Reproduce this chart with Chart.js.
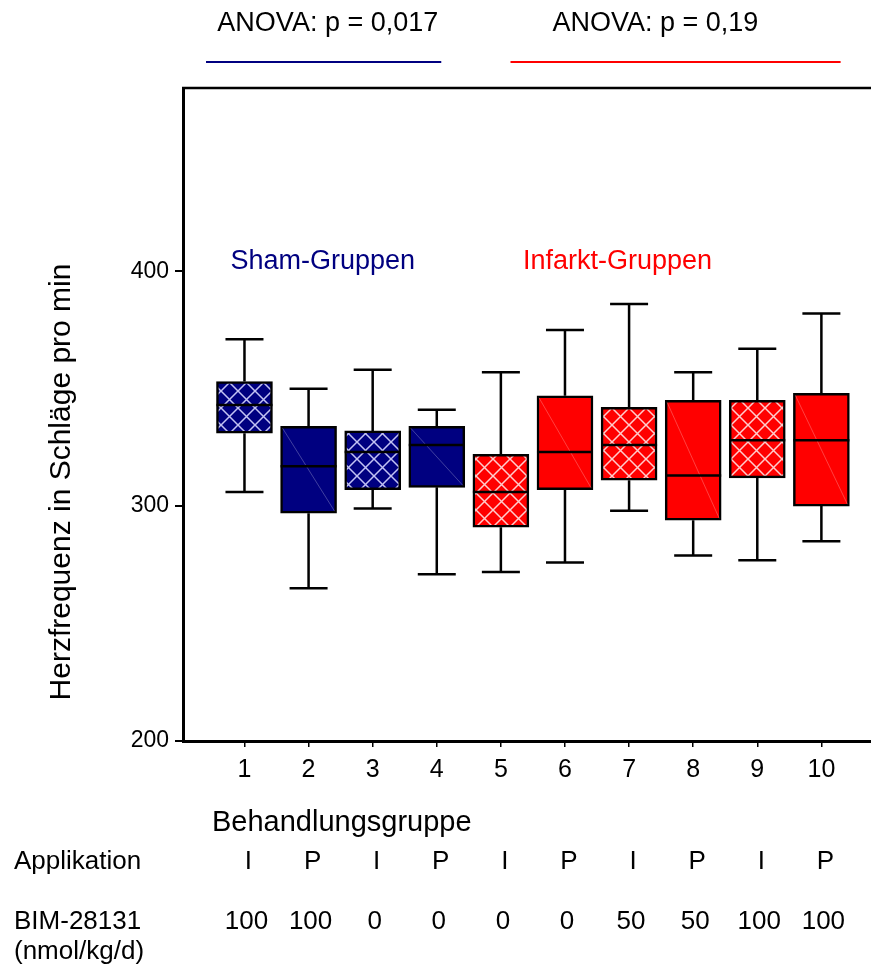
<!DOCTYPE html>
<html>
<head>
<meta charset="utf-8">
<script src="https://cdn.jsdelivr.net/npm/chart.js@4.4.0/dist/chart.umd.min.js"></script>
<style>
  html, body { margin: 0; padding: 0; background: #fff; }
  canvas { display: block; }
</style>
</head>
<body>
<canvas id="hfChart" width="871" height="967"></canvas>
<script>
// Herzfrequenz (Schläge/min) je Behandlungsgruppe
const groups = [1, 2, 3, 4, 5, 6, 7, 8, 9, 10];
const whiskerLow  = [306, 265, 299, 271, 272, 276, 298, 279, 277, 285];
const q1          = [331, 297, 307, 308, 291, 307, 311, 294, 312, 300];
const median      = [343, 317, 323, 326, 306, 323, 326, 313, 328, 328];
const q3          = [353, 334, 332, 334, 322, 347, 342, 345, 345, 348];
const whiskerHigh = [371, 350, 358, 341, 357, 375, 386, 357, 367, 382];

const application = ['I', 'P', 'I', 'P', 'I', 'P', 'I', 'P', 'I', 'P'];
const dose        = ['100', '100', '0', '0', '0', '0', '50', '50', '100', '100'];
const shamGroups  = [true, true, true, true, false, false, false, false, false, false];

const NAVY = '#000080';
const RED = '#ff0000';
const FONT = '"Liberation Sans", Arial, sans-serif';

function crossHatch(base, line) {
    const c = document.createElement('canvas');
    const s = 17;
    c.width = s; c.height = s;
    const g = c.getContext('2d');
    g.fillStyle = base;
    g.fillRect(0, 0, s, s);
    g.strokeStyle = line;
    g.lineWidth = 1.5;
    g.beginPath();
    g.moveTo(-2, -2); g.lineTo(s + 2, s + 2);
    g.moveTo(s + 2, -2); g.lineTo(-2, s + 2);
    g.stroke();
    return g.createPattern(c, 'repeat');
}

const ctx = document.getElementById('hfChart').getContext('2d');
const navyHatch = crossHatch(NAVY, 'rgba(215,215,255,0.9)');
const redHatch = crossHatch(RED, 'rgba(255,215,215,0.95)');

const fills = groups.map((g, i) => {
    const hatched = application[i] === 'I';
    if (shamGroups[i]) return hatched ? navyHatch : NAVY;
    return hatched ? redHatch : RED;
});

const boxPlot = {
    id: 'boxPlot',
    afterDatasetsDraw(chart) {
        const x = chart.scales.x, y = chart.scales.y;
        const c = chart.ctx;
        const meta = chart.getDatasetMeta(0);
        c.save();
        meta.data.forEach((bar, i) => {
            const cx = x.getPixelForValue(groups[i]);
            const half = bar.width / 2;
            const top = y.getPixelForValue(q3[i]);
            const bot = y.getPixelForValue(q1[i]);
            // faint diagonal across the plain boxes
            if (application[i] === 'P') {
                c.strokeStyle = 'rgba(255,255,255,0.25)';
                c.lineWidth = 1;
                c.beginPath();
                c.moveTo(cx - half + 2, top + 2);
                c.lineTo(cx + half - 2, bot - 2);
                c.stroke();
            }
            c.strokeStyle = '#000';
            c.lineWidth = 2.5;
            c.lineCap = 'butt';
            const hi = y.getPixelForValue(whiskerHigh[i]);
            const lo = y.getPixelForValue(whiskerLow[i]);
            c.beginPath();
            c.moveTo(cx, top); c.lineTo(cx, hi);
            c.moveTo(cx - 19, hi); c.lineTo(cx + 19, hi);
            c.moveTo(cx, bot); c.lineTo(cx, lo);
            c.moveTo(cx - 19, lo); c.lineTo(cx + 19, lo);
            const m = y.getPixelForValue(median[i]);
            c.moveTo(cx - half, m); c.lineTo(cx + half, m);
            c.stroke();
        });
        c.restore();
    },
    afterDraw(chart) {
        const x = chart.scales.x, y = chart.scales.y;
        const area = chart.chartArea;
        const c = chart.ctx;
        c.save();
        // frame line at the top
        c.strokeStyle = '#000';
        c.lineWidth = 2.5;
        c.beginPath();
        c.moveTo(area.left - 1, area.top);
        c.lineTo(area.right, area.top);
        c.stroke();

        c.textBaseline = 'middle';
        c.font = '27px ' + FONT;
        c.fillStyle = '#000';
        c.textAlign = 'center';
        c.fillText('ANOVA: p = 0,017', x.getPixelForValue(2.30), 24);
        c.fillText('ANOVA: p = 0,19', x.getPixelForValue(7.41), 24);

        c.lineWidth = 2;
        c.strokeStyle = NAVY;
        c.beginPath();
        c.moveTo(x.getPixelForValue(0.4), 62);
        c.lineTo(x.getPixelForValue(4.07), 62);
        c.stroke();
        c.strokeStyle = RED;
        c.beginPath();
        c.moveTo(x.getPixelForValue(5.15), 62);
        c.lineTo(x.getPixelForValue(10.3), 62);
        c.stroke();

        c.fillStyle = NAVY;
        c.fillText('Sham-Gruppen', x.getPixelForValue(2.22), y.getPixelForValue(404));
        c.fillStyle = RED;
        c.fillText('Infarkt-Gruppen', x.getPixelForValue(6.82), y.getPixelForValue(404));

        // group description rows below the axis
        c.fillStyle = '#000';
        c.textAlign = 'left';
        c.font = '26px ' + FONT;
        c.fillText('Applikation', 14, 862);
        c.fillText('BIM-28131', 14, 922);
        c.fillText('(nmol/kg/d)', 14, 952);
        c.textAlign = 'center';
        groups.forEach((g, i) => {
            const px = x.getPixelForValue(g);
            c.fillText(application[i], px + 4, 862);
            c.fillText(dose[i], px + 2, 922);
        });
        c.textAlign = 'left';
        c.font = '29px ' + FONT;
        c.fillText('Behandlungsgruppe', 212, 823);

        // y axis title
        c.textAlign = 'center';
        c.font = '30px ' + FONT;
        c.translate(62, 482);
        c.rotate(-Math.PI / 2);
        c.fillText('Herzfrequenz in Schläge pro min', 0, 0);
        c.restore();
    }
};

new Chart(ctx, {
    type: 'bar',
    data: {
        datasets: [{
            label: 'Herzfrequenz',
            data: groups.map((g, i) => ({ x: g, y: [q1[i], q3[i]] })),
            backgroundColor: fills,
            borderColor: '#000',
            borderWidth: 2.5,
            borderSkipped: false,
            barThickness: 56
        }]
    },
    options: {
        responsive: false,
        animation: false,
        layout: { padding: { top: 88, right: 0, left: 0, bottom: 0 } },
        plugins: {
            legend: { display: false },
            tooltip: { enabled: false }
        },
        scales: {
            x: {
                type: 'linear',
                offset: false,
                min: 0.041,
                max: 10.774,
                afterFit: function(scale) { scale.height = 226; },
                grid: {
                    offset: false,
                    drawOnChartArea: false,
                    drawTicks: true,
                    tickLength: 6,
                    color: '#000',
                    lineWidth: 1.5
                },
                border: { color: '#000', width: 3 },
                ticks: {
                    stepSize: 1,
                    includeBounds: false,
                    color: '#000',
                    padding: 8,
                    maxRotation: 0,
                    font: { family: FONT, size: 25 }
                }
            },
            y: {
                min: 200,
                max: 478,
                afterFit: function(scale) { scale.width = 183; },
                grid: {
                    drawOnChartArea: false,
                    drawTicks: true,
                    tickLength: 8,
                    color: '#000',
                    lineWidth: 2
                },
                border: { color: '#000', width: 3 },
                ticks: {
                    stepSize: 100,
                    includeBounds: false,
                    color: '#000',
                    padding: 6,
                    font: { family: FONT, size: 23 }
                }
            }
        }
    },
    plugins: [boxPlot]
});
</script>
</body>
</html>
